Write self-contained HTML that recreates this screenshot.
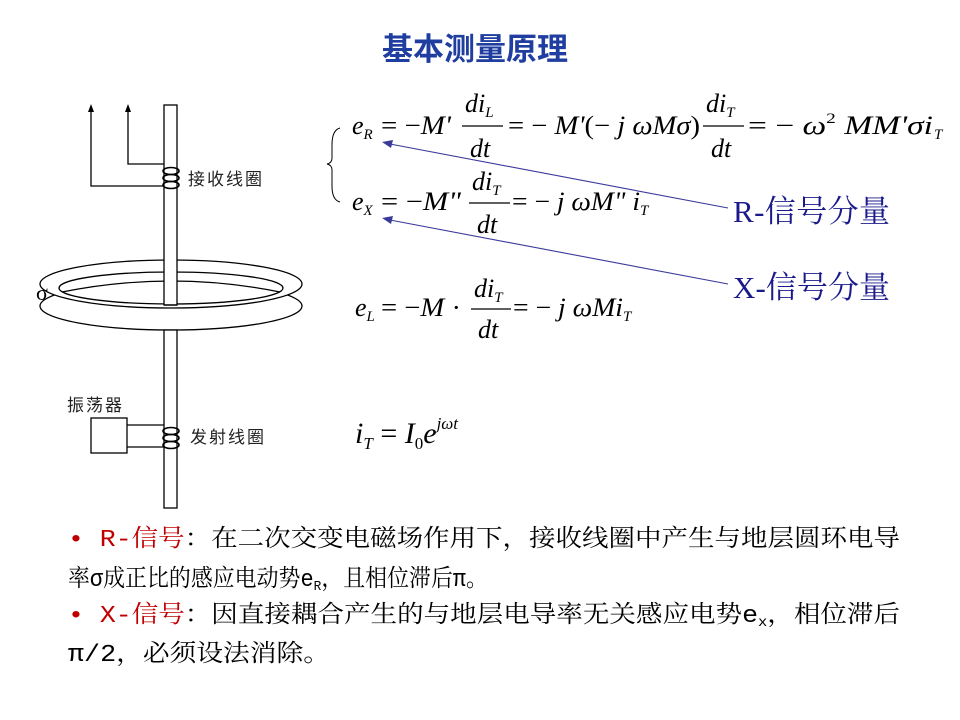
<!DOCTYPE html>
<html><head><meta charset="utf-8"><style>
html,body{margin:0;padding:0;background:#fff;width:960px;height:720px;overflow:hidden}
svg{display:block}
.eq{font-family:"Liberation Serif",serif;font-style:italic;font-size:26px;fill:#000}
.up{font-style:normal}
.sub{font-size:15px}
.cn{font-family:"Liberation Sans","Noto Sans CJK SC",sans-serif;font-size:17px;fill:#222;letter-spacing:2px}
.bt{font-family:"Liberation Mono","Noto Serif CJK SC",serif;font-size:24px;fill:#000}
</style></head><body>
<svg width="960" height="720" viewBox="0 0 960 720" xmlns="http://www.w3.org/2000/svg">
<text x="475" y="60" text-anchor="middle" font-family="Liberation Sans,'Noto Sans CJK SC',sans-serif" font-size="31" font-weight="bold" fill="#1f3ea0">基本测量原理</text>

<g stroke="#000" stroke-width="1.3" fill="none">
<polyline points="91,110 91,186 164,186"/>
<polyline points="128,110 128,164 164,164"/>
</g>
<polygon points="91,104 88,112 94,112" fill="#000"/>
<polygon points="128,104 125,112 131,112" fill="#000"/>

<g stroke="#000" stroke-width="1.3" fill="#fff">
<ellipse cx="171" cy="306" rx="131" ry="24"/>
<ellipse cx="171" cy="284" rx="131" ry="24"/>
<ellipse cx="171" cy="288" rx="112" ry="16"/>
</g>
<path d="M62,292 Q171,270 280,292" stroke="#000" stroke-width="1.2" fill="none"/>
<rect x="164" y="105" width="13" height="200" fill="#fff" stroke="#000" stroke-width="1.3"/>
<rect x="164" y="330" width="13" height="178" fill="#fff" stroke="#000" stroke-width="1.3"/>
<line x1="164" y1="305" x2="177" y2="305" stroke="#000" stroke-width="1.3"/>
<text x="36" y="300" font-family="Liberation Serif,serif" font-size="22">σ</text>

<g stroke="#000" stroke-width="1.6" fill="none">
<ellipse cx="171" cy="171" rx="8" ry="3.5"/>
<ellipse cx="171" cy="178" rx="8" ry="3.5"/>
<ellipse cx="171" cy="185" rx="8" ry="3.5"/>
</g>
<text x="188" y="185" class="cn">接收线圈</text>

<rect x="91" y="418" width="36" height="35" fill="#fff" stroke="#000" stroke-width="1.3"/>
<line x1="127" y1="425" x2="164" y2="425" stroke="#000" stroke-width="1.3"/>
<line x1="127" y1="447" x2="164" y2="447" stroke="#000" stroke-width="1.3"/>
<g stroke="#000" stroke-width="1.6" fill="none">
<ellipse cx="171" cy="431" rx="8" ry="3.5"/>
<ellipse cx="171" cy="438" rx="8" ry="3.5"/>
<ellipse cx="171" cy="445" rx="8" ry="3.5"/>
</g>
<text x="67" y="411" class="cn">振荡器</text>
<text x="190" y="443" class="cn">发射线圈</text>

<path d="M340,128 Q332,130 332,145 L332,158 Q332,163 327,164 Q332,165 332,170 L332,186 Q332,200 340,202" stroke="#000" stroke-width="1" fill="none"/>

<text class="eq" x="352" y="134">e<tspan class="sub" dy="5">R</tspan></text>
<text class="eq" x="381" y="134" textLength="70" lengthAdjust="spacingAndGlyphs"><tspan class="up">= −</tspan>M'</text>
<text class="eq" x="465" y="112">di<tspan class="sub" dy="5">L</tspan></text>
<line x1="462" y1="126" x2="503" y2="126" stroke="#000" stroke-width="1.2"/>
<text class="eq" x="470" y="157">dt</text>
<text class="eq" x="508" y="134" textLength="192" lengthAdjust="spacingAndGlyphs"><tspan class="up">= − </tspan>M'<tspan class="up">(− </tspan>j ωMσ<tspan class="up">)</tspan></text>
<text class="eq" x="706" y="112">di<tspan class="sub" dy="5">T</tspan></text>
<line x1="703" y1="126" x2="744" y2="126" stroke="#000" stroke-width="1.2"/>
<text class="eq" x="711" y="157">dt</text>
<text class="eq" x="748" y="134" textLength="185" lengthAdjust="spacingAndGlyphs"><tspan class="up">= − </tspan>ω<tspan class="sub up" dy="-11">2</tspan><tspan dy="11"> MM'σi</tspan></text>
<text class="eq sub" x="934" y="139">T</text>

<text class="eq" x="352" y="210">e<tspan class="sub" dy="5">X</tspan></text>
<text class="eq" x="381" y="210" textLength="80" lengthAdjust="spacingAndGlyphs"><tspan class="up">= −</tspan>M"</text>
<text class="eq" x="472" y="190">di<tspan class="sub" dy="5">T</tspan></text>
<line x1="469" y1="203" x2="510" y2="203" stroke="#000" stroke-width="1.2"/>
<text class="eq" x="477" y="233">dt</text>
<text class="eq" x="512" y="210" textLength="128" lengthAdjust="spacingAndGlyphs"><tspan class="up">= − </tspan>j ωM" i</text>
<text class="eq sub" x="640" y="215">T</text>

<text class="eq" x="355" y="316">e<tspan class="sub" dy="5">L</tspan></text>
<text class="eq" x="381" y="316" textLength="80" lengthAdjust="spacingAndGlyphs"><tspan class="up">= −</tspan>M <tspan class="up">·</tspan></text>
<text class="eq" x="474" y="297">di<tspan class="sub" dy="5">T</tspan></text>
<line x1="471" y1="309" x2="511" y2="309" stroke="#000" stroke-width="1.2"/>
<text class="eq" x="478" y="338">dt</text>
<text class="eq" x="513" y="316" textLength="110" lengthAdjust="spacingAndGlyphs"><tspan class="up">= − </tspan>j ωMi</text>
<text class="eq sub" x="623" y="321">T</text>

<text class="eq" x="355" y="443" style="font-size:30px">i<tspan style="font-size:17px" dy="6">T</tspan><tspan class="up" dy="-6"> = </tspan>I<tspan class="up" style="font-size:17px" dy="6">0</tspan><tspan dy="-6">e</tspan><tspan style="font-size:17px" dy="-14">jωt</tspan></text>

<text x="733" y="222" font-family="Liberation Serif,'Noto Serif CJK SC',serif" font-size="31" fill="#1a1a8c" textLength="157">R-信号分量</text>
<text x="733" y="298" font-family="Liberation Serif,'Noto Serif CJK SC',serif" font-size="31" fill="#1a1a8c" textLength="157">X-信号分量</text>
<g stroke="#3a3a9a" stroke-width="1.1">
<line x1="728" y1="208" x2="390" y2="144"/>
<line x1="728" y1="284" x2="390" y2="220"/>
</g>
<polygon points="382,142 393,140 391,148" fill="#3a3a9a"/>
<polygon points="382,218 393,216 391,224" fill="#3a3a9a"/>

<text class="bt" x="68" y="546" textLength="832" lengthAdjust="spacingAndGlyphs"><tspan fill="#c00000">• R-信号</tspan>：在二次交变电磁场作用下，接收线圈中产生与地层圆环电导</text>
<text class="bt" x="68" y="586" textLength="420" lengthAdjust="spacingAndGlyphs">率σ成正比的感应电动势e<tspan font-size="14" dy="4">R</tspan><tspan dy="-4">，且相位滞后π。</tspan></text>
<text class="bt" x="68" y="622" textLength="832" lengthAdjust="spacingAndGlyphs"><tspan fill="#c00000">• X-信号</tspan>：因直接耦合产生的与地层电导率无关感应电势e<tspan font-size="14" dy="4">x</tspan><tspan dy="-4">，相位滞后</tspan></text>
<text class="bt" x="68" y="661" textLength="262" lengthAdjust="spacingAndGlyphs">π/2，必须设法消除。</text>
</svg>
</body></html>
